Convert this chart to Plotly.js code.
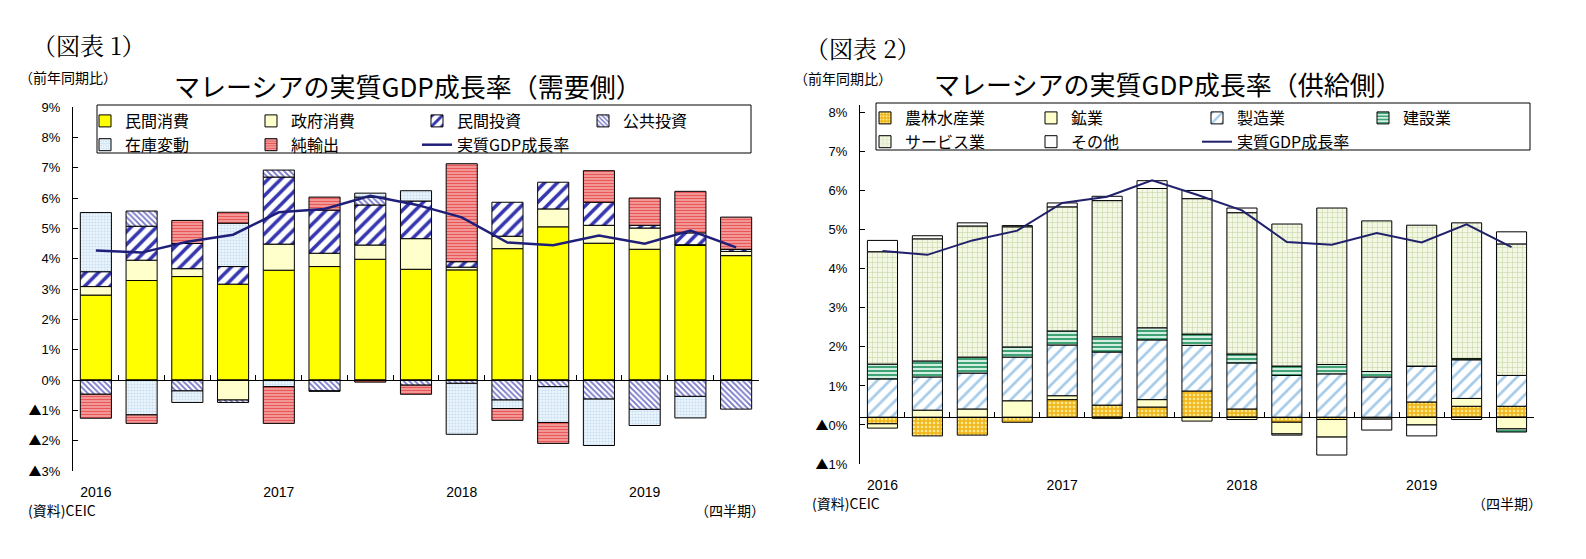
<!DOCTYPE html>
<html>
<head>
<meta charset="utf-8">
<script src="https://cdn.plot.ly/plotly-3.0.1.min.js"></script>
<style>
  body { margin: 0; background: #fff; }
  #wrap { display: flex; width: 1586px; height: 559px; }
  .chart { width: 793px; height: 559px; }
</style>
</head>
<body>
<div id="wrap">
  <div id="chart1" class="chart"></div>
  <div id="chart2" class="chart"></div>
</div>
<script>
// quarters 2016Q1 - 2019Q3
const quarters = ["2016Q1", "2016Q2", "2016Q3", "2016Q4",
                  "2017Q1", "2017Q2", "2017Q3", "2017Q4",
                  "2018Q1", "2018Q2", "2018Q3", "2018Q4",
                  "2019Q1", "2019Q2", "2019Q3"];
const years = ["2016", "2017", "2018", "2019"];

// (図表1) demand side, contribution in % points
const privCons   = [2.80, 3.28, 3.41, 3.16, 3.62, 3.74, 3.98, 3.65, 3.63, 4.33, 5.05, 4.51, 4.31, 4.44, 4.10];
const govCons    = [0.28, 0.67, 0.26, -0.66, 0.86, 0.44, 0.47, 1.01, 0.09, 0.41, 0.59, 0.59, 0.70, 0.02, 0.14];
const privInv    = [0.49, 1.12, 0.83, 0.58, 2.21, 1.42, 1.32, 1.24, 0.18, 1.12, 0.88, 0.76, 0.09, 0.39, 0.07];
const pubInv     = [-0.47, 0.50, -0.36, -0.08, 0.23, -0.36, 0.26, -0.17, -0.11, -0.66, -0.22, -0.63, -0.97, -0.54, -0.96];
const inventory  = [1.95, -1.15, -0.38, 1.43, -0.22, -0.01, 0.13, 0.34, -1.68, -0.28, -1.18, -1.53, -0.53, -0.71, 0.00];
const netExports = [-0.79, -0.28, 0.76, 0.36, -1.21, 0.43, -0.07, -0.30, 3.23, -0.39, -0.69, 1.04, 0.90, 1.37, 1.06];
const gdpDemand  = [4.27, 4.20, 4.56, 4.79, 5.53, 5.64, 6.07, 5.78, 5.36, 4.53, 4.44, 4.76, 4.49, 4.93, 4.37];

// (図表2) supply side
const agri     = [-0.17, -0.48, -0.46, -0.13, 0.45, 0.31, 0.26, 0.67, 0.21, -0.13, -0.06, 0.00, 0.39, 0.28, 0.28];
const mining   = [-0.11, 0.18, 0.21, 0.42, 0.10, -0.03, 0.19, -0.10, -0.06, -0.30, -0.45, -0.05, -0.20, 0.20, -0.30];
const manuf    = [0.98, 0.85, 0.92, 1.12, 1.30, 1.36, 1.53, 1.17, 1.18, 1.07, 1.11, 1.03, 0.92, 0.99, 0.79];
const constr   = [0.38, 0.41, 0.41, 0.26, 0.36, 0.39, 0.31, 0.29, 0.23, 0.24, 0.24, 0.14, 0.00, 0.03, -0.08];
const services = [2.88, 3.13, 3.36, 3.08, 3.18, 3.49, 3.57, 3.47, 3.62, 3.64, 4.01, 3.86, 3.61, 3.48, 3.37];
const others   = [0.29, 0.08, 0.08, 0.03, 0.10, 0.11, 0.20, 0.21, 0.12, -0.03, -0.46, -0.28, -0.28, -0.06, 0.31];
const gdpSupply = [4.26, 4.16, 4.53, 4.78, 5.49, 5.65, 6.07, 5.70, 5.30, 4.49, 4.42, 4.72, 4.48, 4.94, 4.36];

// tick labels
const demandTickVals = [-3, -2, -1, 0, 1, 2, 3, 4, 5, 6, 7, 8, 9];
const demandTickText = ["▲3%", "▲2%", "▲1%", "0%", "1%", "2%", "3%", "4%", "5%", "6%", "7%", "8%", "9%"];
const supplyTickVals = [-1.2, -0.2, 0.8, 1.8, 2.8, 3.8, 4.8, 5.8, 6.8, 7.8];
const supplyTickText = ["▲1%", "▲0%", "1%", "2%", "3%", "4%", "5%", "6%", "7%", "8%"];

const idx = quarters.map((q, i) => i);
const yearPos = years.map(y => quarters.indexOf(y + "Q1"));
const bounds = [-0.5].concat(idx.map(i => i + 0.5));

const W = 793, H = 559;
const jp = '"Noto Sans CJK JP", "Liberation Sans", sans-serif';
const num = '"Liberation Sans", "Noto Sans CJK JP", sans-serif';
const serif = '"Noto Serif CJK JP", "Liberation Serif", serif';

// the triangle sign is drawn from the CJK font, as in the original
function signed(t) {
  return t.replace("▲", '<span style="font-family:Noto Sans CJK JP">▲</span>');
}

function barTrace(name, y, style) {
  return {
    type: "bar", name: name, x: idx, y: y,
    marker: {
      color: style.color,
      pattern: style.pattern || {shape: ""},
      line: {color: "#000", width: 1}
    },
    hoverinfo: "skip"
  };
}

function lineTrace(y, color, width) {
  return {
    type: "scatter", mode: "lines", name: "実質GDP成長率",
    x: idx, y: y, xaxis: "x2", yaxis: "y",
    line: {color: color, width: width},
    hoverinfo: "skip"
  };
}

// pixel helpers (pixel inside a 793x559 chart -> paper fraction)
function fx(m, px) { return (px - m.l) / (W - m.l - m.r); }
function fy(m, py) { return (H - m.b - py) / (H - m.t - m.b); }

function note(m, text, px, py, size, xanchor, family) {
  return {
    text: text, xref: "paper", yref: "paper",
    x: fx(m, px), y: fy(m, py), xanchor: xanchor, yanchor: "middle",
    showarrow: false, font: {size: size, family: family || jp, color: "#000"}
  };
}

// box: [left, top, right, bottom] of the legend frame, textLeft: x of first legend text
function makeLayout(m, yRange, tickVals, tickText, bargap, box, textLeft, firstRow, notes) {
  return {
    width: W, height: H,
    margin: m,
    paper_bgcolor: "#fff", plot_bgcolor: "#fff",
    font: {family: jp, color: "#000"},
    barmode: "relative",
    bargap: bargap,
    showlegend: true,
    legend: {
      orientation: "h", x: fx(m, textLeft - 40), y: fy(m, firstRow - 14),
      xanchor: "left", yanchor: "top",
      borderwidth: 0, bgcolor: "rgba(0,0,0,0)",
      font: {size: 16, family: jp, color: "#000"},
      entrywidth: 121, entrywidthmode: "pixels",
      traceorder: "normal"
    },
    shapes: [{
      type: "rect", xref: "paper", yref: "paper", layer: "above",
      x0: fx(m, box[0]), x1: fx(m, box[2]), y0: fy(m, box[3]), y1: fy(m, box[1]),
      line: {color: "#000", width: 1}, fillcolor: "#fff"
    }],
    xaxis: {
      range: [-0.5, quarters.length - 0.5],
      tickvals: yearPos, ticktext: years,
      ticks: "", showline: false, showgrid: false, zeroline: false,
      tickfont: {size: 14, family: num, color: "#000"},
      ticklabelstandoff: 11,
      automargin: false, fixedrange: true
    },
    xaxis2: {
      overlaying: "x", anchor: "free",
      position: (0 - yRange[0]) / (yRange[1] - yRange[0]),
      range: [-0.5, quarters.length - 0.5],
      tickvals: bounds, ticks: "inside", ticklen: 5, tickcolor: "#000", tickwidth: 1,
      showticklabels: false, showline: true, linecolor: "#000", linewidth: 1,
      showgrid: false, zeroline: false, automargin: false, fixedrange: true
    },
    yaxis: {
      range: yRange, tickvals: tickVals, ticktext: tickText.map(signed),
      ticks: "inside", ticklen: 5, tickcolor: "#000",
      showline: true, linecolor: "#000", linewidth: 1,
      showgrid: false, zeroline: false,
      tickfont: {size: 13, family: num, color: "#000"},
      ticklabelstandoff: 9,
      automargin: false, fixedrange: true
    },
    annotations: notes
  };
}

const config = {displayModeBar: false, staticPlot: true};

// chart 1 : demand side
const m1 = {l: 73, r: 34, t: 107, b: 88, pad: 0};
const data1 = [
  barTrace("民間消費", privCons, {color: "#FFFF00"}),
  barTrace("政府消費", govCons, {color: "#FFFFCC"}),
  barTrace("民間投資", privInv, {color: "#FFFFFF",
    pattern: {shape: "/", fgcolor: "#3535B0", bgcolor: "#FFFFFF", size: 9, solidity: 0.4}}),
  barTrace("公共投資", pubInv, {color: "#FFFFFF",
    pattern: {shape: "\\", fgcolor: "#7575C8", bgcolor: "#FFFFFF", size: 4, solidity: 0.45}}),
  barTrace("在庫変動", inventory, {color: "#EEF6FC",
    pattern: {shape: ".", fgcolor: "#C5DFF2", bgcolor: "#EEF6FC", size: 3, solidity: 0.4}}),
  barTrace("純輸出", netExports, {color: "#F7B4B4",
    pattern: {shape: "-", fgcolor: "#E85858", bgcolor: "#F7B4B4", size: 3, solidity: 0.55}}),
  lineTrace(gdpDemand, "#1F1F7A", 2.5)
];
const notes1 = [
  note(m1, "（図表 1）", 30, 45, 24, "left", serif),
  note(m1, "（前年同期比）", 17, 77, 14, "left"),
  note(m1, "マレーシアの実質GDP成長率（需要側）", 408, 85, 26, "center"),
  note(m1, "(資料)CEIC", 26, 510, 14, "left"),
  note(m1, "（四半期）", 767, 510, 14, "right")
];
Plotly.newPlot("chart1", data1,
  makeLayout(m1, [-3, 9], demandTickVals, demandTickText, 0.32,
             [97, 105, 751, 153], 125, 118, notes1), config);

// chart 2 : supply side
const m2 = {l: 67, r: 52, t: 105, b: 95, pad: 0};
const data2 = [
  barTrace("農林水産業", agri, {color: "#EFB820",
    pattern: {shape: ".", fgcolor: "#FFE88E", bgcolor: "#EFB820", size: 4, solidity: 0.35}}),
  barTrace("鉱業", mining, {color: "#FFFFCC"}),
  barTrace("製造業", manuf, {color: "#FFFFFF",
    pattern: {shape: "/", fgcolor: "#A6CBE8", bgcolor: "#FFFFFF", size: 9, solidity: 0.3}}),
  barTrace("建設業", constr, {color: "#D3EFE1",
    pattern: {shape: "-", fgcolor: "#2E9A6A", bgcolor: "#D3EFE1", size: 4, solidity: 0.45}}),
  barTrace("サービス業", services, {color: "#F3F7E4",
    pattern: {shape: "+", fgcolor: "#C3D3A2", bgcolor: "#F3F7E4", size: 5, solidity: 0.2}}),
  barTrace("その他", others, {color: "#FFFFFF"}),
  lineTrace(gdpSupply, "#20206B", 2)
];
const notes2 = [
  note(m2, "（図表 2）", 803 - W, 47, 24, "left", serif),
  note(m2, "（前年同期比）", 792 - W, 78, 14, "left"),
  note(m2, "マレーシアの実質GDP成長率（供給側）", 1168 - W, 83, 26, "center"),
  note(m2, "(資料)CEIC", 810 - W, 503, 14, "left"),
  note(m2, "（四半期）", 1544 - W, 503, 14, "right")
];
Plotly.newPlot("chart2", data2,
  makeLayout(m2, [-1.2, 8.0], supplyTickVals, supplyTickText, 0.33,
             [876 - W, 103, 1530 - W, 150], 905 - W, 115, notes2), config);
</script>
</body>
</html>
